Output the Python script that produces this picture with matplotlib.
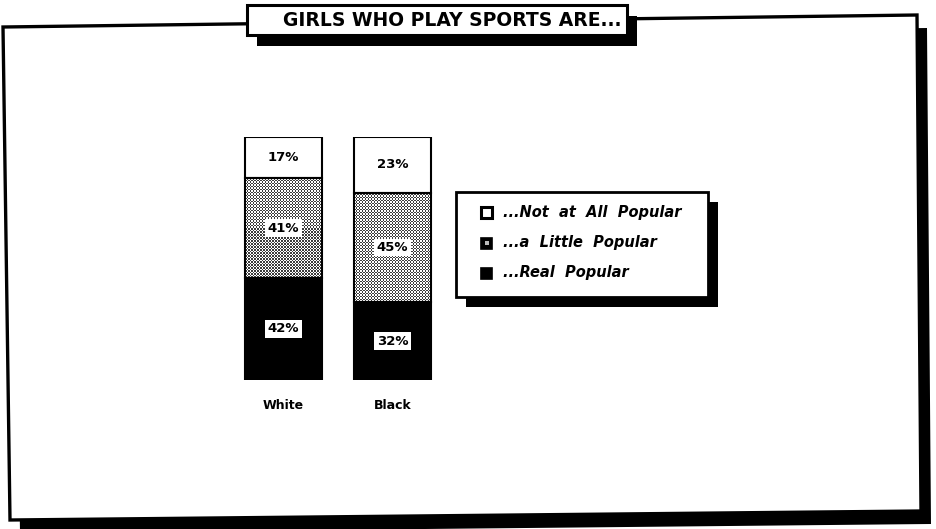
import numpy as np
import matplotlib
matplotlib.use("Agg")
import matplotlib.pyplot as plt
from matplotlib.patches import Polygon, Rectangle
from matplotlib.colors import ListedColormap

plt.rcParams["font.family"] = ["DejaVu Sans"]

# survey shares, bottom segment first
groups = ["White", "Black"]
real_popular = [42, 32]
little_popular = [41, 45]
not_popular = [17, 23]
legend_labels = ["...Not  at  All  Popular", "...a  Little  Popular", "...Real  Popular"]
title = "GIRLS WHO PLAY SPORTS ARE..."

W, H = 936, 529
fig = plt.figure(figsize=(W / 100, H / 100), dpi=100)


def fp(x, y):
    """pixel position (from top-left) -> figure fraction"""
    return (x / W, 1 - y / H)


def boxed(pts, dx, dy, lw, z):
    # drop shadow first, then the white box on top of it
    shadow = [fp(x + dx, y + dy) for x, y in pts]
    body = [fp(x, y) for x, y in pts]
    fig.add_artist(Polygon(shadow, closed=True, transform=fig.transFigure,
                           fc="black", ec="black", lw=0, zorder=z))
    fig.add_artist(Polygon(body, closed=True, transform=fig.transFigure,
                           fc="white", ec="black", lw=lw, zorder=z + 0.5,
                           joinstyle="miter"))


# outer frame (slightly skewed, like the scanned page)
boxed([(3, 27), (917, 15), (921, 511), (10, 520)], 10, 13, 2.4, -2)

# title plate
boxed([(247, 5), (627, 5), (627, 35), (247, 35)], 10, 11, 2.2, 2)
fig.text(*fp(452, 20), title, ha="center", va="center", fontsize=13.5,
         fontweight="bold", zorder=4)

stipple = ListedColormap(["white", "#3c3c3c"])


def dither(ax, x0, y0, w, h, cell_px, zorder):
    # fine checkerboard fill used for the middle segment
    tr = ax.transData.transform
    (px0, py0), (px1, py1) = tr((x0, y0)), tr((x0 + w, y0 + h))
    nx = max(1, int(round(abs(px1 - px0) / cell_px)))
    ny = max(1, int(round(abs(py1 - py0) / cell_px)))
    ii, jj = np.indices((ny, nx))
    ax.imshow((ii + jj) % 2, cmap=stipple, extent=(x0, x0 + w, y0, y0 + h),
              interpolation="nearest", aspect="auto", zorder=zorder)


# stacked bars
ax = fig.add_axes([229 / W, 1 - 380 / H, 218 / W, 243 / H], zorder=5)
ax.set_xlim(-0.5, 1.5)
ax.set_ylim(0, 100)
ax.axis("off")

x = np.arange(len(groups))
bw = 0.70
b1 = ax.bar(x, real_popular, bw, color="black", edgecolor="black", lw=1.5, zorder=2)
b2 = ax.bar(x, little_popular, bw, bottom=real_popular, color="none",
            edgecolor="black", lw=1.5, zorder=3)
base3 = np.add(real_popular, little_popular)
b3 = ax.bar(x, not_popular, bw, bottom=base3, color="white", edgecolor="black",
            lw=1.5, zorder=2)

for p in b2:
    dither(ax, p.get_x(), p.get_y(), p.get_width(), p.get_height(), 1.5, 1)
ax.set_xlim(-0.5, 1.5)
ax.set_ylim(0, 100)

lbl = dict(ha="center", va="center", fontsize=9.5, fontweight="bold", zorder=5)
box = dict(boxstyle="square,pad=0.18", fc="white", ec="none")
for bars, vals in ((b1, real_popular), (b2, little_popular), (b3, not_popular)):
    for p, v in zip(bars, vals):
        ax.text(p.get_x() + p.get_width() / 2, p.get_y() + p.get_height() / 2,
                f"{v}%", bbox=box, **lbl)

for xi, g in zip(x, groups):
    ax.text(xi, -10.5, g, ha="center", va="center", fontsize=9,
            fontweight="bold", clip_on=False)

# legend panel
boxed([(456, 192), (708, 192), (708, 297), (456, 297)], 10, 10, 2.0, 6)
lax = fig.add_axes([456 / W, 1 - 297 / H, 252 / W, 105 / H], zorder=8)
lax.set_xlim(456, 708)
lax.set_ylim(297, 192)
lax.axis("off")

rows = [212, 243, 273]
sq = 11
for i, (ry, lab) in enumerate(zip(rows, legend_labels)):
    x0, y0 = 481, ry - sq / 2
    if i == 0:
        lax.add_patch(Rectangle((x0, y0), sq, sq, fc="white", ec="black", lw=2.2))
    elif i == 1:
        lax.add_patch(Rectangle((x0, y0), sq, sq, fc="black", ec="black", lw=1.2))
        lax.add_patch(Rectangle((x0 + 3.5, y0 + 3.5), 4, 4, fc="#bbbbbb", ec="none"))
    else:
        lax.add_patch(Rectangle((x0, y0), sq, sq, fc="black", ec="black", lw=1.2))
    lax.text(503, ry, lab, ha="left", va="center", fontsize=10.5,
             fontweight="bold", fontstyle="italic")

fig.savefig("out.png", dpi=100, facecolor="white")
